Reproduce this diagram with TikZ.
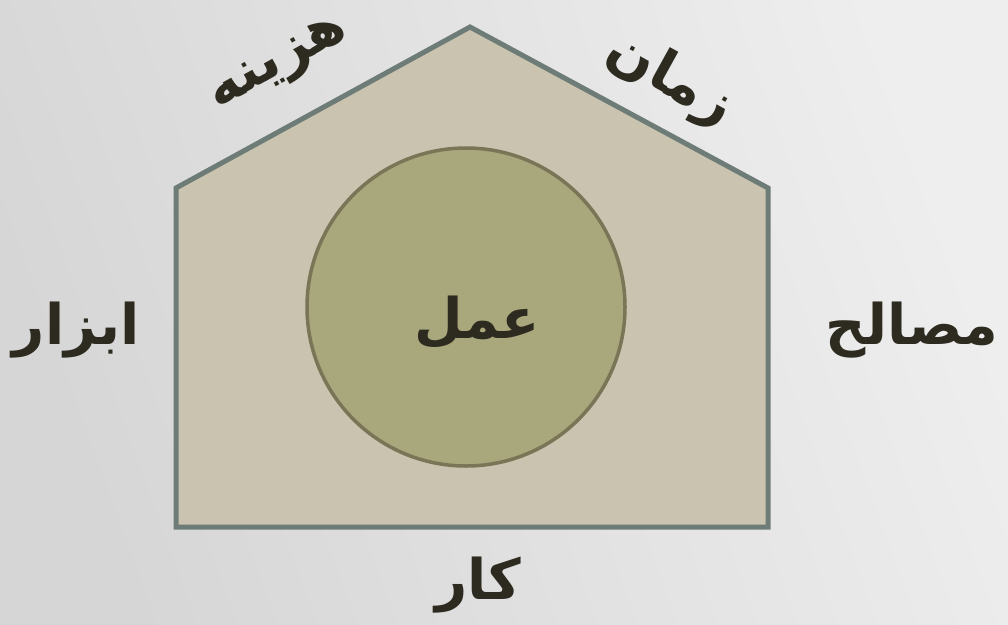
\documentclass[tikz,border=0pt]{standalone}
\usepackage{fontspec}
\TeXXeTstate=1
\newfontfamily\arabicfont[Script=Arabic]{DejaVu Sans}
\definecolor{bgA}{HTML}{D6D6D6}
\definecolor{bgB}{HTML}{EEEEEE}
\definecolor{houseFill}{HTML}{C9C3AF}
\definecolor{houseLine}{HTML}{6E7C77}
\definecolor{circFill}{HTML}{A9A77C}
\definecolor{circLine}{HTML}{7A7557}
\definecolor{txt}{HTML}{2D2A20}
\tikzset{
  lbl/.style={text=txt, font=\arabicfont\bfseries\fontsize{56}{64}\selectfont, inner sep=0pt},
}
\begin{document}
\begin{tikzpicture}[x=1pt,y=-1pt]
\shade[left color=bgA, right color=bgB, shading angle=110] (0,0) rectangle (1008,624);
\useasboundingbox (0,0) rectangle (1008,624);
\coordinate (p1) at (176,188);
\coordinate (p2) at (470,27);
\coordinate (p3) at (768,188);
\coordinate (p4) at (768,527);
\coordinate (p5) at (176,527);
\draw[houseLine, fill=houseFill, line width=5pt, line join=miter] (p1) -- (p2) -- (p3) -- (p4) -- (p5) -- cycle;
\node[circle, draw=circLine, fill=circFill, line width=3.5pt, minimum size=318pt, inner sep=0pt] (c) at (466,307) {};
\node[lbl] (amal) at (477,322) {\beginR عمل\endR};
\node[lbl, rotate=29] (hazine) at (280,66) {\beginR هزینه\endR};
\node[lbl, rotate=-29] (zaman) at (670,80) {\beginR زمان\endR};
\node[lbl] (abzar) at (76,330) {\beginR ابزار\endR};
\node[lbl] (masaleh) at (912,330) {\beginR مصالح\endR};
\node[lbl] (kar) at (478,585) {\beginR کار\endR};
\end{tikzpicture}
\end{document}
